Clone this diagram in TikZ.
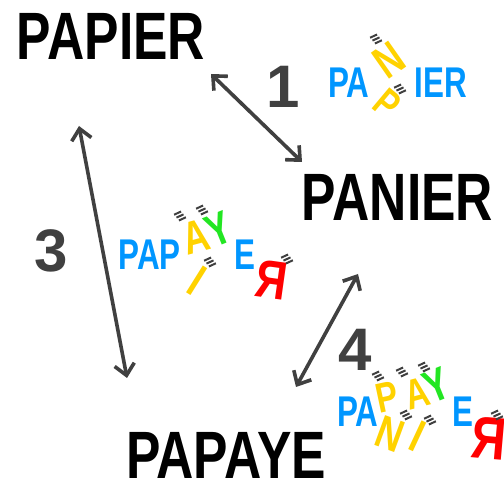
\documentclass[tikz,border=0pt]{standalone}
\usepackage{fontspec}
\setmainfont{Liberation Sans}
\usetikzlibrary{arrows.meta}
\definecolor{ink}{HTML}{404040}
\definecolor{sky}{HTML}{0096FF}
\definecolor{sun}{HTML}{FFD200}
\definecolor{leaf}{HTML}{22E622}
\definecolor{fire}{HTML}{FF0000}
\tikzset{
  wordtxt/.style={inner sep=0pt, xscale=0.77, font=\bfseries\fontsize{67}{67}\selectfont},
  digit/.style={inner sep=0pt, text=ink, font=\bfseries\fontsize{60}{60}\selectfont},
  piece/.style={inner sep=0pt, xscale=0.73, font=\bfseries\fontsize{43}{43}\selectfont},
  moved/.style={inner sep=0pt, xscale=0.78, font=\bfseries\fontsize{46}{46}\selectfont},
  keep/.style={piece, text=sky},
  swapY/.style={moved, text=sun},
  swapG/.style={moved, text=leaf},
  swapR/.style={inner sep=0pt, xscale=-0.8, text=fire, font=\bfseries\fontsize{54}{54}\selectfont},
  link/.style={draw=ink, line width=3.6pt,
    arrows={Straight Barb[length=11pt,width=20pt,line width=3.6pt]-Straight Barb[length=11pt,width=20pt,line width=3.6pt]}},
  hatch3/.pic={
    \foreach \k in {-1,0,1}{
      \draw[ink, line width=2pt] ({-3.5+2.4*\k},{1.6+2.9*\k}) -- ({3.5+2.4*\k},{-1.6+2.9*\k});
    }
  }
}
\begin{document}
\begin{tikzpicture}[x=1pt,y=-1pt]
\useasboundingbox[fill=white] (0,0) rectangle (504,481);

% main words
\node[wordtxt] (papier) at (111,36) {PAPIER};
\node[wordtxt] (panier) at (397.5,197) {PANIER};
\node[wordtxt] (papaye) at (226,455.5) {PAPAYE};

% step numbers
\node[digit] (n1) at (283,86.5) {1};
\node[digit] (n3) at (51,250.5) {3};
\node[digit] (n4) at (355,350) {4};

% arrows between words
\coordinate (a1s) at (211,74);
\coordinate (a1e) at (302,162);
\coordinate (a3s) at (79,126);
\coordinate (a3e) at (127,378);
\coordinate (a4s) at (358,274);
\coordinate (a4e) at (296,387);
\draw[link] (a1s) -- (a1e);
\draw[link] (a3s) -- (a3e);
\draw[link] (a4s) -- (a4e);

% PAPIER -> PANIER : swapped letters N / P
\node[keep] (g1pa) at (349,82.5) {PA};
\node[keep] (g1ier) at (441,82.5) {IER};
\node[rotate=35, swapY] (g1n) at (389,60) {N};
\node[rotate=-40, swapY, font=\bfseries\fontsize{40}{40}\selectfont] (g1p) at (387,104) {P};
\pic at (376,39) {hatch3};
\pic at (400,89) {hatch3};

% PAPIER -> PAPAYE : inserted A, Y ; removed I ; moved R
\node[keep] (g2pap) at (149.5,254.5) {PAP};
\node[keep] (g2e) at (244.5,254.5) {E};
\node[rotate=15, swapY] (g2a) at (196,237) {A};
\node[rotate=22, swapG] (g2y) at (219,229) {Y};
\node[rotate=-32, swapY] (g2i) at (197,281) {I};
\node[rotate=-8, swapR] (g2r) at (272,280) {R};
\pic at (180,216) {hatch3};
\pic at (202,210) {hatch3};
\pic at (210,262) {hatch3};
\pic at (287,259) {hatch3};

% PANIER -> PAPAYE : swapped letters
\node[keep] (g3pa) at (358,412) {PA};
\node[keep] (g3e) at (463,412) {E};
\node[rotate=12, swapY, font=\bfseries\fontsize{42}{42}\selectfont] (g3p) at (387,397) {P};
\node[rotate=15, swapY, font=\bfseries\fontsize{42}{42}\selectfont] (g3a) at (417,393) {A};
\node[rotate=22, swapG] (g3y) at (437,385) {Y};
\node[rotate=-20, swapY] (g3n) at (390,434) {N};
\node[rotate=-25, swapY] (g3i) at (418,436) {I};
\node[rotate=-5, swapR, font=\bfseries\fontsize{60}{60}\selectfont] (g3r) at (489,438) {R};
\pic at (378,376) {hatch3};
\pic at (402,372) {hatch3};
\pic at (424,367) {hatch3};
\pic at (406,415) {hatch3};
\pic at (430,420) {hatch3};
\pic at (497,415) {hatch3};
\end{tikzpicture}
\end{document}
